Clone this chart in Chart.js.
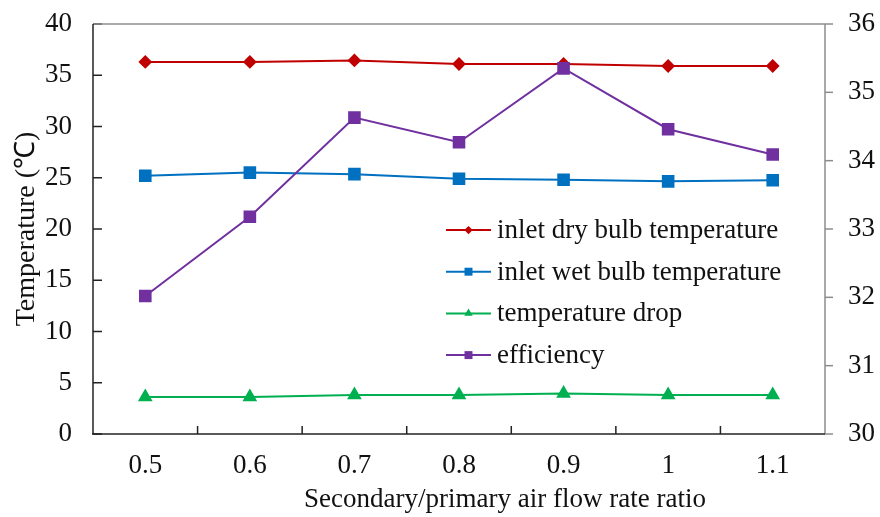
<!DOCTYPE html>
<html>
<head>
<meta charset="utf-8">
<script src="https://cdn.jsdelivr.net/npm/chart.js@4.4.0/dist/chart.umd.min.js"></script>
<style>
  html, body { margin: 0; padding: 0; background: #fff; }
  #wrap { width: 880px; height: 517px; }
</style>
</head>
<body>
<div id="wrap"><canvas id="chart" width="880" height="517"></canvas></div>
<script>
// values
const ratios = ['0.5', '0.6', '0.7', '0.8', '0.9', '1', '1.1'];
const dryBulb = [36.3, 36.3, 36.45, 36.1, 36.1, 35.9, 35.9];
const wetBulb = [25.2, 25.5, 25.35, 24.9, 24.8, 24.65, 24.75];
const tempDrop = [3.6, 3.6, 3.8, 3.8, 3.95, 3.8, 3.8];
const efficiency = [32.02, 33.18, 34.63, 34.27, 35.35, 34.46, 34.09];
const xTitle = 'Secondary/primary air flow rate ratio';

const serif = "'Liberation Serif', 'Times New Roman', serif";

function line(ctx, x1, y1, x2, y2, color, w) {
    ctx.beginPath();
    ctx.strokeStyle = color;
    ctx.lineWidth = w || 1.5;
    ctx.moveTo(x1, y1);
    ctx.lineTo(x2, y2);
    ctx.stroke();
}

// frame + inward ticks, like the original plot
const framePlugin = {
    id: 'frame',
    beforeDatasetsDraw(chart) {
        const { ctx, chartArea: a, scales } = chart;
        ctx.save();
        scales.y.ticks.forEach((t, i) => {
            const py = scales.y.getPixelForTick(i);
            line(ctx, a.left, py, a.left + 9, py, '#222');
        });
        for (let i = 1; i < ratios.length; i++) {
            const px = (scales.x.getPixelForValue(i - 1) + scales.x.getPixelForValue(i)) / 2;
            line(ctx, px, a.bottom, px, a.bottom - 8, '#222');
        }
        scales.y1.ticks.forEach((t, i) => {
            const py = scales.y1.getPixelForTick(i);
            line(ctx, a.right, py, a.right + 8, py, '#8c8c8c');
        });
        line(ctx, a.left, a.top, a.right, a.top, '#8c8c8c');
        line(ctx, a.right, a.top, a.right, a.bottom, '#8c8c8c');
        line(ctx, a.left, a.top, a.left, a.bottom, '#222');
        line(ctx, a.left - 1, a.bottom, a.right, a.bottom, '#222');
        ctx.restore();
    }
};

// legend with a short line and marker, placed inside the plot; x title sits right of centre
const legendPlugin = {
    id: 'boxLegend',
    afterDraw(chart) {
        const { ctx } = chart;
        const x0 = 446, x1 = 491, y0 = 230, gap = 41.7;
        ctx.save();
        ctx.font = '27px ' + serif;
        ctx.textBaseline = 'middle';
        chart.data.datasets.forEach((ds, i) => {
            const y = y0 + i * gap;
            line(ctx, x0, y, x1, y, ds.borderColor, 2);
            ctx.fillStyle = ds.borderColor;
            Chart.helpers.drawPoint(ctx, {
                pointStyle: ds.pointStyle,
                radius: ds.pointRadius * 0.75,
                rotation: 0,
                borderWidth: 0
            }, (x0 + x1) / 2, y);
            ctx.fillStyle = '#111';
            ctx.fillText(ds.label, 497, y + 1);
        });
        ctx.textAlign = 'center';
        ctx.fillText(xTitle, 505, 500);
        ctx.restore();
    }
};

function fixY(scale) {
    scale.width = scale.id === 'y' ? 93 : 55;
    scale.paddingTop = 0;
    scale.paddingBottom = 0;
}

const ctx = document.getElementById('chart').getContext('2d');
new Chart(ctx, {
    type: 'line',
    data: {
        labels: ratios,
        datasets: [
            {
                label: 'inlet dry bulb temperature',
                data: dryBulb,
                yAxisID: 'y',
                borderColor: '#c00000',
                backgroundColor: '#c00000',
                pointStyle: 'rectRot',
                pointRadius: 5.5,
                borderWidth: 2,
                order: 3
            },
            {
                label: 'inlet wet bulb temperature',
                data: wetBulb,
                yAxisID: 'y',
                borderColor: '#0070c0',
                backgroundColor: '#0070c0',
                pointStyle: 'rect',
                pointRadius: 7.5,
                borderWidth: 2,
                order: 2
            },
            {
                label: 'temperature drop',
                data: tempDrop,
                yAxisID: 'y',
                borderColor: '#00b050',
                backgroundColor: '#00b050',
                pointStyle: 'triangle',
                pointRadius: 6.5,
                borderWidth: 2,
                order: 1
            },
            {
                label: 'efficiency',
                data: efficiency,
                yAxisID: 'y1',
                borderColor: '#7030a0',
                backgroundColor: '#7030a0',
                pointStyle: 'rect',
                pointRadius: 7.5,
                borderWidth: 2,
                order: 0
            }
        ]
    },
    options: {
        responsive: false,
        animation: false,
        layout: { padding: { top: 24, left: 0, right: 0, bottom: 0 } },
        elements: {
            line: { tension: 0 },
            point: { borderWidth: 0, hoverRadius: 7 }
        },
        plugins: {
            legend: { display: false },
            tooltip: { enabled: false }
        },
        scales: {
            x: {
                offset: true,
                grid: { display: false, drawTicks: false },
                border: { display: false },
                ticks: { color: '#111', padding: 16, font: { family: serif, size: 27 } },
                title: { display: false },
                afterFit(scale) { scale.height = 83; }
            },
            y: {
                position: 'left',
                min: 0,
                max: 40,
                grid: { display: false, drawTicks: false },
                border: { display: false },
                ticks: { stepSize: 5, color: '#111', padding: 21, font: { family: serif, size: 27 } },
                title: {
                    display: true,
                    text: 'Temperature (℃)',
                    color: '#111',
                    padding: { top: 10, bottom: 0 },
                    font: { family: serif, size: 28 }
                },
                afterFit: fixY
            },
            y1: {
                position: 'right',
                min: 30,
                max: 36,
                grid: { display: false, drawTicks: false },
                border: { display: false },
                ticks: { stepSize: 1, color: '#111', padding: 23, font: { family: serif, size: 27 } },
                afterFit: fixY
            }
        }
    },
    plugins: [framePlugin, legendPlugin]
});
</script>
</body>
</html>
